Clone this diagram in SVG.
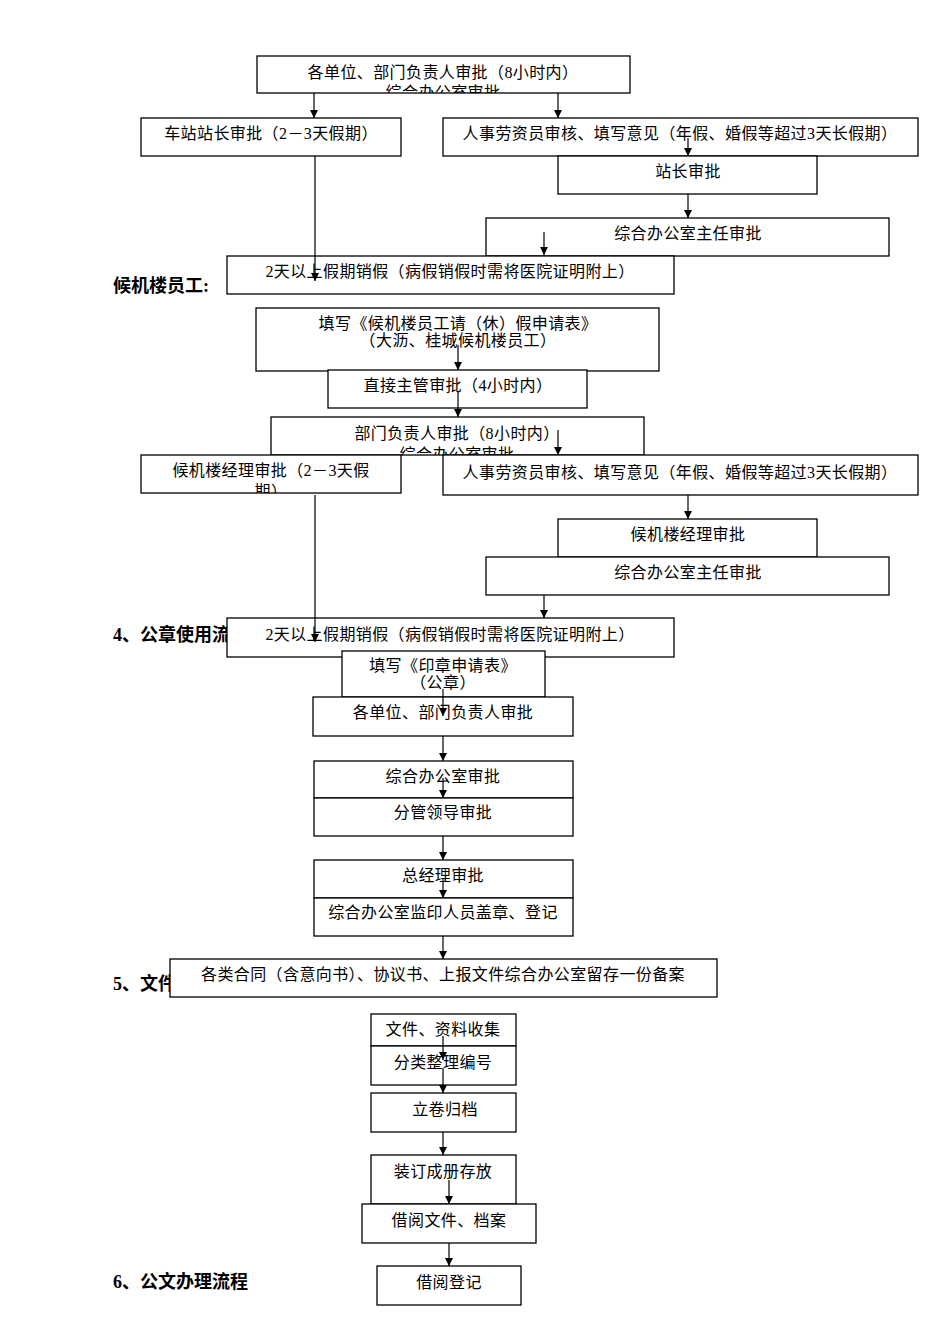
<svg xmlns="http://www.w3.org/2000/svg" width="950" height="1344" viewBox="0 0 950 1344">
<style>
rect{fill:#fff;stroke:#000;stroke-width:1.3}
text{font-family:"Liberation Serif","Noto Sans CJK SC",serif;font-size:16px;letter-spacing:0.4px;text-anchor:middle;fill:#000}
.h{font-weight:bold;font-size:18px;letter-spacing:0;text-anchor:start}
line{stroke:#000;stroke-width:1.2;marker-end:url(#a)}
</style>
<defs>
<marker id="a" markerWidth="10" markerHeight="10" refX="8" refY="4" orient="auto" markerUnits="userSpaceOnUse"><path d="M0,0L8,4L0,8z" fill="#000"/></marker>
<clipPath id="c1"><rect x="257" y="56" width="373" height="37"/></clipPath>
<clipPath id="c9"><rect x="271" y="417" width="373" height="38"/></clipPath>
<clipPath id="c10"><rect x="141" y="455" width="260" height="38"/></clipPath>
</defs>
<text class="h" x="113" y="292">候机楼员工:</text>
<text class="h" x="113" y="641">4、公章使用流程</text>
<text class="h" x="113" y="990">5、文件</text>
<text class="h" x="113" y="1288">6、公文办理流程</text>
<g id="n1"><rect x="257" y="56" width="373" height="37"/><text x="443" y="78">各单位、部门负责人审批（8小时内）</text><text x="443" y="98" clip-path="url(#c1)">综合办公室审批</text></g>
<g id="n2"><rect x="141" y="118" width="260" height="38"/><text x="271" y="139">车站站长审批（2－3天假期）</text></g>
<g id="n3"><rect x="443" y="118" width="475" height="38"/><text x="680" y="139">人事劳资员审核、填写意见（年假、婚假等超过3天长假期）</text></g>
<g id="n4"><rect x="558" y="156" width="259" height="38"/><text x="688" y="177">站长审批</text></g>
<g id="n5"><rect x="486" y="218" width="403" height="38"/><text x="688" y="239">综合办公室主任审批</text></g>
<g id="n6"><rect x="227" y="256" width="447" height="38"/><text x="450" y="277">2天以上假期销假（病假销假时需将医院证明附上）</text></g>
<g id="n7"><rect x="256" y="308" width="403" height="63"/><text x="458" y="329">填写《候机楼员工请（休）假申请表》</text><text x="458" y="346">（大沥、桂城候机楼员工）</text></g>
<g id="n8"><rect x="328" y="370" width="259" height="38"/><text x="458" y="391">直接主管审批（4小时内）</text></g>
<g id="n9"><rect x="271" y="417" width="373" height="38"/><text x="457" y="439">部门负责人审批（8小时内）</text><text x="457" y="460" clip-path="url(#c9)">综合办公室审批</text></g>
<g id="n10"><rect x="141" y="455" width="260" height="38"/><text x="271" y="476">候机楼经理审批（2－3天假</text><text x="271" y="497" clip-path="url(#c10)">期）</text></g>
<g id="n11"><rect x="443" y="455" width="475" height="40"/><text x="680" y="478">人事劳资员审核、填写意见（年假、婚假等超过3天长假期）</text></g>
<g id="n12"><rect x="558" y="519" width="259" height="38"/><text x="688" y="540">候机楼经理审批</text></g>
<g id="n13"><rect x="486" y="557" width="403" height="38"/><text x="688" y="578">综合办公室主任审批</text></g>
<g id="n14"><rect x="227" y="618" width="447" height="39"/><text x="450" y="640">2天以上假期销假（病假销假时需将医院证明附上）</text></g>
<g id="n15"><rect x="342" y="651" width="203" height="46"/><text x="443" y="671">填写《印章申请表》</text><text x="443" y="688">（公章）</text></g>
<g id="n16"><rect x="313" y="697" width="260" height="39"/><text x="443" y="718">各单位、部门负责人审批</text></g>
<g id="n17"><rect x="314" y="761" width="259" height="37"/><text x="443" y="782">综合办公室审批</text></g>
<g id="n18"><rect x="314" y="798" width="259" height="38"/><text x="443" y="818">分管领导审批</text></g>
<g id="n19"><rect x="314" y="860" width="259" height="38"/><text x="443" y="881">总经理审批</text></g>
<g id="n20"><rect x="314" y="898" width="259" height="38"/><text x="443" y="918">综合办公室监印人员盖章、登记</text></g>
<g id="n21"><rect x="170" y="959" width="547" height="38"/><text x="443" y="980">各类合同（含意向书）、协议书、上报文件综合办公室留存一份备案</text></g>
<g id="n22"><rect x="371" y="1014" width="145" height="32"/><text x="443" y="1035">文件、资料收集</text></g>
<g id="n23"><rect x="371" y="1046" width="145" height="39"/><text x="443" y="1068">分类整理编号</text></g>
<g id="n24"><rect x="371" y="1093" width="145" height="39"/><text x="445" y="1115">立卷归档</text></g>
<g id="n25"><rect x="371" y="1155" width="145" height="49"/><text x="443" y="1177">装订成册存放</text></g>
<g id="n26"><rect x="362" y="1204" width="174" height="39"/><text x="449" y="1226">借阅文件、档案</text></g>
<g id="n27"><rect x="377" y="1266" width="144" height="39"/><text x="449" y="1288">借阅登记</text></g>
<g id="connectors">
<line x1="314" y1="93" x2="314" y2="118"/>
<line x1="558" y1="93" x2="558" y2="118"/>
<line x1="315" y1="156" x2="315" y2="281"/>
<line x1="688" y1="138" x2="688" y2="156"/>
<line x1="688" y1="194" x2="688" y2="218"/>
<line x1="544" y1="232" x2="544" y2="255"/>
<line x1="458" y1="345" x2="458" y2="370"/>
<line x1="458" y1="392" x2="458" y2="417"/>
<line x1="558" y1="430" x2="558" y2="455"/>
<line x1="315" y1="495" x2="315" y2="642"/>
<line x1="688" y1="495" x2="688" y2="519"/>
<line x1="544" y1="595" x2="544" y2="618"/>
<line x1="443" y1="689" x2="443" y2="716"/>
<line x1="443" y1="736" x2="443" y2="761"/>
<line x1="443" y1="778" x2="443" y2="798"/>
<line x1="443" y1="836" x2="443" y2="860"/>
<line x1="443" y1="878" x2="443" y2="898"/>
<line x1="443" y1="936" x2="443" y2="959"/>
<line x1="443" y1="1036" x2="443" y2="1060"/>
<line x1="443" y1="1068" x2="443" y2="1093"/>
<line x1="443" y1="1132" x2="443" y2="1155"/>
<line x1="449" y1="1180" x2="449" y2="1204"/>
<line x1="449" y1="1243" x2="449" y2="1266"/>
</g>
</svg>
